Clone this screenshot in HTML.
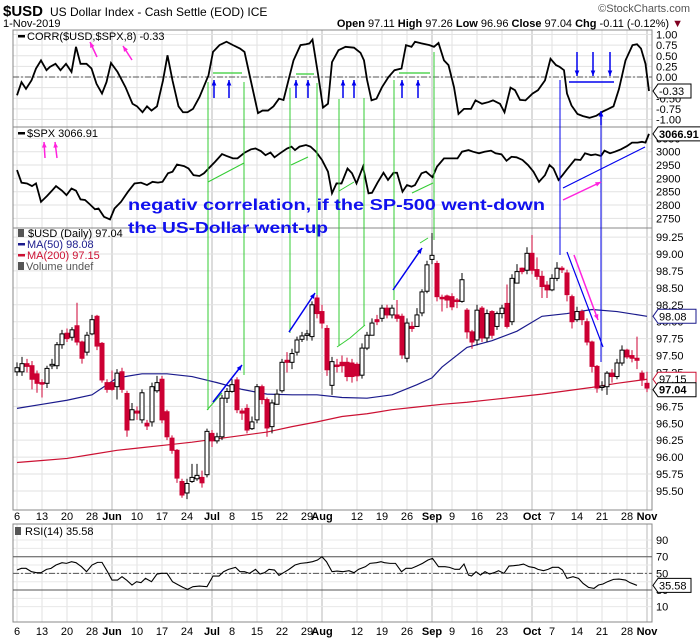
<!DOCTYPE html>
<html><head><meta charset="utf-8"><style>
html,body{margin:0;padding:0;background:#fff;}
svg{display:block;font-family:"Liberation Sans",sans-serif;}
</style></head><body>
<svg id="chart" width="700" height="639" viewBox="0 0 700 639"></svg>
<script>
// ---------- DATA ----------
const tickLabels=["6","13","20","28","Jun","10","17","24","Jul","8","15","22","29","Aug","12","19","26","Sep","9","16","23","Oct","7","14","21","28","Nov"];
const tickIdx=[0,5,10,15,19,24,29,34,39,43,48,53,58,61,68,73,78,83,87,92,97,103,107,112,117,122,126];
const usdOpen=[97.26,97.26,97.38,97.35,97.23,97.10,97.09,97.35,97.35,97.66,97.83,97.77,97.94,97.70,97.55,97.82,98.08,97.68,97.10,97.10,97.04,97.26,96.94,96.55,96.68,96.55,96.50,96.52,96.98,97.15,96.67,96.28,96.10,95.64,95.47,95.64,95.68,95.70,95.74,96.35,96.24,96.30,96.87,96.97,97.14,96.68,96.72,96.42,96.55,97.04,96.85,96.45,96.78,96.98,97.43,97.40,97.55,97.74,97.81,97.78,98.35,98.15,97.90,97.06,97.36,97.40,97.40,97.39,97.37,97.21,97.61,97.80,98.03,98.05,98.20,98.10,98.10,98.08,97.46,97.93,97.93,98.13,98.45,98.92,98.86,98.36,98.38,98.37,98.32,98.30,98.17,97.85,97.73,98.20,97.76,98.15,97.93,98.12,98.27,98.00,98.57,98.79,98.76,99.01,98.77,98.67,98.54,98.47,98.64,98.79,98.72,98.37,98.03,98.15,98.00,97.70,97.34,97.04,97.04,97.24,97.19,97.39,97.58,97.50,97.46,97.24,97.09];
const usdClose=[97.32,97.38,97.34,97.15,97.09,97.09,97.31,97.37,97.66,97.82,97.75,97.88,97.70,97.46,97.80,98.03,97.64,97.14,97.00,97.00,97.24,97.00,96.40,96.70,96.65,96.95,96.46,97.04,97.10,96.55,96.30,96.10,95.69,95.44,95.61,95.70,95.73,95.62,96.38,96.24,96.30,96.87,96.97,97.07,96.70,96.65,96.40,96.52,97.04,96.85,96.43,96.80,96.93,97.40,97.40,97.53,97.73,97.79,97.82,98.25,98.12,97.98,97.29,97.41,97.34,97.35,97.19,97.19,97.20,97.61,97.80,97.98,98.00,98.20,98.10,98.20,98.05,97.51,97.98,97.90,98.10,98.44,98.84,98.98,98.37,98.34,98.32,98.22,98.30,98.62,97.85,97.70,98.17,97.76,98.12,97.80,98.12,98.20,97.93,98.64,98.74,98.74,99.01,98.76,98.67,98.52,98.47,98.64,98.79,98.77,98.40,98.00,98.15,98.03,97.70,97.34,97.02,97.05,97.24,97.19,97.39,97.58,97.48,97.46,97.43,97.14,97.02];
const usdHigh=[97.40,97.48,97.45,97.42,97.28,97.15,97.35,97.45,97.70,97.88,97.90,97.92,98.28,97.72,97.85,98.10,98.10,97.70,97.15,97.28,97.30,97.32,96.98,96.80,96.75,97.00,96.55,97.10,97.20,97.20,96.70,96.32,96.12,95.68,95.68,95.90,95.90,95.80,96.42,96.40,96.36,96.92,97.02,97.15,97.18,96.72,96.78,96.60,97.08,97.07,96.88,96.85,97.00,97.45,97.55,97.60,97.78,97.85,97.88,98.30,98.68,98.25,97.95,97.48,97.45,97.50,97.47,97.45,97.40,97.68,97.85,98.05,98.10,98.25,98.25,98.25,98.32,98.12,98.05,98.00,98.20,98.48,98.90,99.31,98.90,98.40,98.40,98.42,98.35,98.72,98.20,97.88,98.25,98.23,98.18,98.17,98.15,98.25,98.55,98.70,98.85,98.80,99.10,99.28,98.95,98.75,98.60,98.70,98.88,98.82,98.77,98.40,98.22,98.18,98.05,97.72,97.36,97.12,97.27,97.30,97.45,97.65,97.60,97.58,97.78,97.28,97.26];
const usdLow=[97.20,97.20,97.25,97.00,96.95,96.88,97.02,97.30,97.30,97.60,97.70,97.72,97.65,97.38,97.50,97.80,97.58,97.10,96.95,96.98,96.85,96.95,96.30,96.55,96.55,96.50,96.40,96.45,96.95,96.50,96.25,96.05,95.62,95.40,95.38,95.62,95.65,95.55,95.70,96.15,96.20,96.25,96.80,96.95,96.65,96.55,96.35,96.40,96.50,96.78,96.30,96.35,96.85,96.95,97.25,97.30,97.50,97.70,97.72,97.72,98.05,97.90,97.20,96.92,97.25,97.25,97.12,97.10,97.12,97.16,97.58,97.92,97.95,98.00,98.05,98.05,98.00,97.45,97.40,97.85,97.95,98.08,98.42,98.85,98.30,98.15,98.20,98.17,98.20,98.28,97.75,97.60,97.65,97.70,97.70,97.75,97.88,98.05,97.90,97.95,98.65,98.70,98.70,98.70,98.62,98.35,98.35,98.45,98.60,98.72,98.30,97.90,98.00,97.95,97.65,97.25,96.95,96.98,96.92,97.10,97.15,97.35,97.45,97.40,97.30,97.05,96.96];
const ma50Idx=[0,5,10,15,20,25,30,35,40,45,50,55,60,65,70,75,80,83,85,90,95,100,105,110,115,120,126];
const ma50Val=[96.72,96.78,96.84,96.92,97.17,97.23,97.23,97.19,97.10,97.00,96.93,96.92,96.92,96.88,96.87,96.92,97.07,97.17,97.33,97.62,97.72,97.86,98.08,98.12,98.18,98.15,98.08];
const ma200Idx=[0,5,10,15,20,25,30,35,40,45,50,55,60,65,70,75,80,85,90,95,100,105,110,115,120,126];
const ma200Val=[95.92,95.95,95.98,96.04,96.10,96.14,96.18,96.22,96.27,96.32,96.37,96.45,96.52,96.60,96.64,96.70,96.74,96.78,96.81,96.85,96.89,96.93,96.98,97.03,97.09,97.15];
const corrIdx=[0,0.9,1.8,2.9,3.8,4.8,5.9,6.6,7.7,8.7,9.8,10.9,11.8,12.7,13.9,14.9,15.9,17,17.9,18.8,20.1,21.7,23.1,24,25.1,26,26.9,28,29.2,30.1,31.1,32.3,33.2,34.1,35.2,36.5,38.3,39.2,40.5,41.9,43.2,44.6,45.5,46.6,48.2,49.1,50.2,51.3,52.4,53.3,54.2,55.3,56.7,57.8,58.5,59.1,60.4,61.2,62.2,63,64.3,65.7,67.4,68.7,69.4,70,70.9,71.9,73,74.3,75.5,76.9,77.8,78.9,79.6,80.9,82.5,83.4,84.3,85.4,86.3,87.4,88.3,89.4,90.8,91.7,93,94.3,95.2,96.6,97.5,98.7,99.6,100.6,101.7,103.1,104.2,105.6,106.7,107.8,108.5,109.4,110,110.9,112.1,113.2,114.5,115.9,117.2,118.1,119.3,120.4,121.7,123.1,124,124.8,125.7,126.4];
const corrVal=[-0.43,-0.12,-0.28,-0.08,0.20,0.39,0.16,0.24,0.31,0.16,0.31,0.12,0.71,0.31,0.31,0.20,-0.16,-0.39,-0.12,0.33,0.12,-0.24,-0.63,-0.69,-0.83,-0.69,-0.79,-0.69,-0.08,0.51,-0.08,-0.69,-0.83,-0.83,-0.75,-0.47,0.04,0.59,0.75,0.83,0.75,0.67,0.59,0.0,-0.85,-0.79,-0.79,-0.69,-0.51,-0.54,-0.12,0.39,0.75,0.77,0.79,0.88,-0.08,-0.72,-0.63,0.35,0.63,0.71,0.69,0.57,0.39,-0.06,-0.55,-0.51,-0.24,0.0,0.16,0.20,0.75,0.71,0.83,0.79,0.75,0.71,0.80,0.39,0.28,-0.24,-0.87,-0.75,-0.75,-0.55,-0.63,-0.59,-0.55,-0.63,-0.83,-0.25,-0.31,-0.54,-0.55,-0.39,-0.31,-0.08,0.43,0.28,0.24,0.16,-0.39,-0.67,-0.87,-0.92,-0.96,-0.91,-0.81,-0.76,-0.69,-0.28,0.39,0.75,0.77,0.67,0.31,-0.33];
const spxIdx=[0,0.9,2,3,3.8,4.8,6,6.9,7.8,9,9.9,10.9,11.8,12.7,13.6,14.5,15.6,16.3,17.4,18.6,19.5,20.8,22.2,23.5,24.8,26,27.1,28.2,29.1,30.2,31.1,32,33.4,34.3,35.3,36.5,37.4,38.3,39.6,41,41.9,43.2,44.1,45.5,46.8,47.7,48.8,49.7,50.7,51.5,52.6,54,54.9,55.6,56.5,57.8,58.7,59.8,61,62.2,63,63.9,64.9,66.1,67,67.9,69.2,70.3,71,72.1,73.3,74.2,75.3,76,77.1,78,78.9,79.6,80.9,81.8,83.1,84,85.4,86.3,88.1,89,90.3,91.2,92.4,93.5,94.8,95.7,96.9,97.9,98.9,99.9,101.1,102.2,103.3,104.4,105.6,106.5,107.3,108.3,109.1,110,110.7,111.6,112.7,113.6,114.8,115.7,116.8,117.5,118.6,119.6,120.8,122,123,124.1,125,125.7,126.4];
const spxVal=[2931,2884,2881,2871,2881,2812,2834,2852,2871,2854,2837,2862,2854,2821,2819,2804,2784,2787,2756,2746,2787,2812,2850,2881,2884,2875,2887,2884,2887,2919,2925,2952,2946,2937,2912,2909,2919,2937,2962,2991,2984,2975,2975,2996,3009,3012,3002,2987,2997,2979,2994,3012,3019,3006,3019,3025,3019,3000,2969,2925,2844,2881,2881,2937,2919,2881,2944,2844,2846,2884,2921,2894,2921,2921,2850,2875,2869,2875,2919,2925,2904,2944,2975,2975,2975,3000,3006,3000,2994,3000,3004,2994,2990,2966,2981,2979,2969,2950,2925,2887,2912,2950,2937,2894,2912,2934,2950,2971,2969,2994,2987,2990,2984,3004,2994,3000,3009,3021,3034,3034,3037,3034,3066.91];
const rsiIdx=[0,0.9,1.8,2.9,3.9,4.8,5.9,6.8,7.8,9,9.9,10.9,11.8,12.9,13.9,15,16.1,17,18.1,19,20.1,21,21.9,23,23.9,24.8,25.7,26.9,28,28.9,30,31.1,32.3,33.2,34.1,35.2,36.5,38,39.2,40.4,41.3,42.3,43.7,44.6,45.5,46.5,47.7,48.6,49.5,50.4,51.5,52.4,53.3,54.4,55.6,56.7,58,59.1,60.1,61,61.9,63,64,65.2,66.4,67.4,68.3,69.7,70.6,71.9,72.8,73.5,74.6,75.7,76.9,77.8,78.9,80,81.1,82.2,83.1,84.3,85.6,86.5,87.6,88.5,89.4,90.3,90.9,91.8,92.7,93.6,94.5,95.4,96.3,97.4,98.4,99.3,100.4,101.3,102.4,103.5,104.2,105.3,106.2,107.1,108.3,109.1,110,111.2,112.3,113.2,114.3,115.4,116.3,117.2,118.1,119.3,120.4,121.7,122.6,124,125.5];
const rsiVal=[54,56,56,52,50.8,50.8,54.8,56,60,62.8,62,64,62.8,58,52,60,63.2,63.2,52,42,42,46,42,36,40,38.8,44,40,49.2,50,50,40,36,33.2,30.8,34,34.8,34,46.8,46.8,52,54.8,57.2,52,52,50,54.8,49.2,50.8,54.8,54,47.6,50.8,54.8,60,62,62.8,64,66,70,64,52,52.8,52,53.2,50.8,54.8,58,62,62.8,64,62.8,62,62,52,56,56,58.8,62,66,68,58,58,57.2,54.8,54.8,61.2,48,46.8,52,48,52,49.2,50.8,53.2,50,58.8,59.2,60,61.2,58,56.8,54.8,53.2,54.8,57.2,57.2,54,44,46,44,38,33.2,32,36,37.2,40,42.8,43.2,42,38.8,35.58];
const corrTicks=[1,0.75,0.5,0.25,0,-0.25,-0.5,-0.75,-1];
const spxTicks=[3050,3000,2950,2900,2850,2800,2750];
const usdTicks=[99.25,99,98.75,98.5,98.25,98,97.75,97.5,97.25,97,96.75,96.5,96.25,96,95.75,95.5];
const rsiTicks=[90,70,50,30,10];

// ---------- SCALES ----------
const L=13,R=652;
const X=i=>17+i*5;
const yC=v=>77-v*42.5;
const yS=v=>151.7-(v-3000)*0.2667;
const yU=v=>254-(v-99)*67.7;
const yR=v=>556.7-(v-70)*0.833;
const NS="http://www.w3.org/2000/svg";
const svg=document.getElementById('chart');
function mk(tag,attrs,parent){const e=document.createElementNS(NS,tag);for(const k in attrs)e.setAttribute(k,attrs[k]);(parent||svg).appendChild(e);return e;}
function txt(s,x,y,attrs){const t=mk('text',Object.assign({x:x,y:y,'font-size':11,fill:'#000'},attrs||{}));t.textContent=s;return t;}

// ---------- HEADER ----------
let t=txt('$USD',3,16,{'font-size':15,'font-weight':'bold'});


t=txt('US Dollar Index - Cash Settle (EOD) ICE',50,16,{'font-size':12});


t=txt('©StockCharts.com',690,12,{'font-size':11,fill:'#555','text-anchor':'end'});


t=txt('1-Nov-2019',3,27,{'font-size':11});


const q=mk('text',{x:683,y:27,'font-size':11,'text-anchor':'end'});


q.innerHTML='<tspan font-weight="bold">Open</tspan> 97.11 <tspan font-weight="bold">High</tspan> 97.26 <tspan font-weight="bold">Low</tspan> 96.96 <tspan font-weight="bold">Close</tspan> 97.04 <tspan font-weight="bold">Chg</tspan> -0.11 (-0.12%) <tspan fill="#800020">▼</tspan>';

// ---------- PANELS ----------
const panels=[{n:'corr-panel',t:30,b:127},{n:'spx-panel',t:127,b:228},{n:'usd-panel',t:228,b:510},{n:'rsi-panel',t:524,b:622}];
panels.forEach(p=>{
  tickIdx.forEach((ix,k)=>{
    const month=/[A-Za-z]/.test(tickLabels[k]);
    const g=mk('line',{x1:X(ix),x2:X(ix),y1:p.t,y2:p.b,stroke:month?'#b8b8b8':'#e2e2e2','stroke-width':1});
    
    
  });
});
function hgrid(ticks,yf,name,fmt,top,bot){
  ticks.forEach(v=>{const y=yf(v);if(y<top||y>bot)return;
    const g=mk('line',{x1:L,x2:R,y1:y,y2:y,stroke:'#e2e2e2'});
    
    
    const l=txt(fmt(v),656,y+4,{'font-size':11});
    
    
  });
}
hgrid(corrTicks,yC,'corr',v=>v.toFixed(2),30,127);
hgrid(spxTicks,yS,'spx',v=>String(v),127,228);
hgrid(usdTicks,yU,'usd',v=>v.toFixed(2),228,510);
[90,80,70,60,50,40,30,20,10].forEach(v=>{const g=mk('line',{x1:L,x2:R,y1:yR(v),y2:yR(v),stroke:'#e8e8e8'});

});
rsiTicks.forEach(v=>{const l=txt(String(v),656,yR(v)+4,{'font-size':11});

});
panels.forEach(p=>{const r=mk('rect',{x:L,y:p.t,width:R-L,height:p.b-p.t,fill:'none',stroke:'#888'});

});

// ---------- DATE AXES ----------
[520,635].forEach(yy=>{
  tickIdx.forEach((ix,k)=>{
    const s=tickLabels[k];const bold=/[A-Za-z]/.test(s);
    const l=txt(s,X(ix),yy,{'font-size':11,'font-weight':bold?'bold':'normal','text-anchor':'middle'});
    
    
  });
});

// ---------- CORR ----------
const zl=mk('line',{x1:L,x2:R,y1:yC(0),y2:yC(0),stroke:'#555','stroke-dasharray':'6,2,2,2'});


let pts=corrIdx.map((ix,k)=>X(ix)+','+yC(corrVal[k])).join(' ');
let pl=mk('polyline',{points:pts,fill:'none',stroke:'#000','stroke-width':1.8});



// ---------- SPX ----------
pts=spxIdx.map((ix,k)=>X(ix)+','+yS(spxVal[k])).join(' ');
pl=mk('polyline',{points:pts,fill:'none',stroke:'#000','stroke-width':1.8});



// ---------- USD ----------
pts=ma50Idx.map((ix,k)=>X(ix)+','+yU(ma50Val[k])).join(' ');
pl=mk('polyline',{points:pts,fill:'none',stroke:'#1a1a8c','stroke-width':1.2});


pts=ma200Idx.map((ix,k)=>X(ix)+','+yU(ma200Val[k])).join(' ');
pl=mk('polyline',{points:pts,fill:'none',stroke:'#cc1133','stroke-width':1.2});


usdClose.forEach((c,i)=>{
  const o=usdOpen[i],x=X(i),up=c>=o,col=up?'#000':'#cc0033';
  const w=mk('line',{x1:x,x2:x,y1:yU(usdHigh[i]),y2:yU(usdLow[i]),stroke:col,'stroke-width':1});
  
  
  const top=yU(Math.max(o,c)),h=Math.max(1.5,yU(Math.min(o,c))-top);
  const b=mk('rect',{x:x-2,y:top,width:4,height:h,fill:up?'#fff':'#cc0033',stroke:col,'stroke-width':1});
  
  
});

// ---------- RSI ----------
[[70,'none'],[30,'none'],[50,'6,2,2,2']].forEach(a=>{
  const l=mk('line',{x1:L,x2:R,y1:yR(a[0]),y2:yR(a[0]),stroke:'#555','stroke-dasharray':a[1]});
  
  
});
pts=rsiIdx.map((ix,k)=>X(ix)+','+yR(rsiVal[k])).join(' ');
pl=mk('polyline',{points:pts,fill:'none',stroke:'#000','stroke-width':1.1});



// ---------- LEGENDS ----------
function leg(s,x,y,col,name,sw){
  if(sw){const r=mk('rect',{x:x,y:y-5,width:7,height:2.5,fill:col});
  
  }
  const l=txt(s,x+(sw?9:0),y,{'font-size':11,fill:col});
  
  
}
leg('CORR($USD,$SPX,8) -0.33',18,40,'#000','corr-legend',true);
leg('$SPX 3066.91',18,137,'#000','spx-legend',true);
leg('$USD (Daily) 97.04',28,237,'#000','usd-legend',false);
leg('MA(50) 98.08',18,248,'#1a1a8c','ma50-legend',true);
leg('MA(200) 97.15',18,259,'#cc1133','ma200-legend',true);
leg('Volume undef',26,270,'#555','volume-legend',false);
leg('RSI(14) 35.58',25,535,'#000','rsi-legend',false);
[[18,237],[18,270],[15,535]].forEach(p=>{const r=mk('rect',{x:p[0],y:p[1]-8,width:6,height:8,fill:'#555'});

});

// ---------- VALUE BOXES ----------
function vbox(s,y,col,bold,name,w){
  const p=mk('path',{d:`M${R+1},${y} l5,-7 h${w} v14 h-${w} z`,fill:'#fff',stroke:col,'stroke-width':1});
  
  
  const l=txt(s,R+7,y+4,{'font-size':11,'font-weight':bold?'bold':'normal',fill:'#000'});
  
  
}
vbox('-0.33',yC(-0.33),'#000',false,'corr-last-value',33);
vbox('3066.91',yS(3066.91),'#000',true,'spx-last-value',45);
vbox('98.08',yU(98.08),'#1a1a8c',false,'ma50-last-value',38);
vbox('97.15',yU(97.15),'#cc1133',false,'ma200-last-value',38);
vbox('97.04',yU(97.04)+3,'#000',true,'usd-last-value',38);
vbox('35.58',yR(35.58),'#000',false,'rsi-last-value',33);

// ---------- ANNOTATIONS ----------
function ln(x1,y1,x2,y2,col,w,name){const l=mk('line',{x1:x1,y1:y1,x2:x2,y2:y2,stroke:col,'stroke-width':w||1});

return l;}
function arrow(x1,y1,x2,y2,col,name){
  ln(x1,y1,x2,y2,col,1.5,name);
  const a=Math.atan2(y2-y1,x2-x1),s=6;
  const p=mk('polygon',{points:`${x2},${y2} ${x2-s*Math.cos(a-0.4)},${y2-s*Math.sin(a-0.4)} ${x2-s*Math.cos(a+0.4)},${y2-s*Math.sin(a+0.4)}`,fill:col});
  
  
}
const G='#33cc33',B='#0000ee',M='#ff22dd';
[[208,82,410],[244,82,375],[290,88,333],[317,83,295],[339,99,346],[364,98,326],[394,80,300],[434,52,240]].forEach(v=>ln(v[0],v[1],v[0],v[2],G,1,'green-marker-line'));
[[213,242,73],[296,314,74],[399,430,73]].forEach(h=>ln(h[0],h[2],h[1],h[2],G,1.3,'green-corr-bar'));
[[208,182,244,163],[291,165,308,157],[339,191,354,182],[412,193,433,183],[207,410,222,393],[337,347,350,338],[350,338,365,325],[420,243,428,238]].forEach(s=>ln(s[0],s[1],s[2],s[3],G,1,'green-slant'));
[[213,402,242,365],[289,332,315,293],[393,290,422,248]].forEach(a=>arrow(a[0],a[1],a[2],a[3],B,'blue-up-arrow'));
[214,229,296,308,343,354,402,418].forEach(x=>arrow(x,98,x,80,B,'corr-up-arrow'));
[577,593,610].forEach(x=>arrow(x,52,x,76,B,'corr-down-arrow'));
ln(569,82,614,82,B,1.5,'blue-corr-bar');
ln(560,80,560,255,B,1,'blue-marker-line');
ln(601,114,601,362,B,1,'blue-marker-line');
arrow(601,125,601,111,B,'corr-up-arrow');
ln(563,188,645,147,B,1.2,'blue-spx-trend');
arrow(563,200,601,182,M,'magenta-spx-arrow');
ln(567,252,603,347,B,1.2,'blue-usd-trend');
arrow(574,255,598,320,M,'magenta-usd-arrow');
arrow(97,57,90,42,M,'magenta-legend-arrow');
arrow(132,60,123,46,M,'magenta-legend-arrow');
arrow(45,158,44,142,M,'magenta-legend-arrow');
arrow(57,158,55,142,M,'magenta-legend-arrow');
t=txt('negativ correlation, if the SP-500 went-down',128,210,{'font-size':16,'font-weight':'bold',fill:'#1010ee',textLength:417,lengthAdjust:'spacingAndGlyphs'});


t=txt('the US-Dollar went-up',128,233,{'font-size':16,'font-weight':'bold',fill:'#1010ee',textLength:200,lengthAdjust:'spacingAndGlyphs'});


</script>
</body></html>
